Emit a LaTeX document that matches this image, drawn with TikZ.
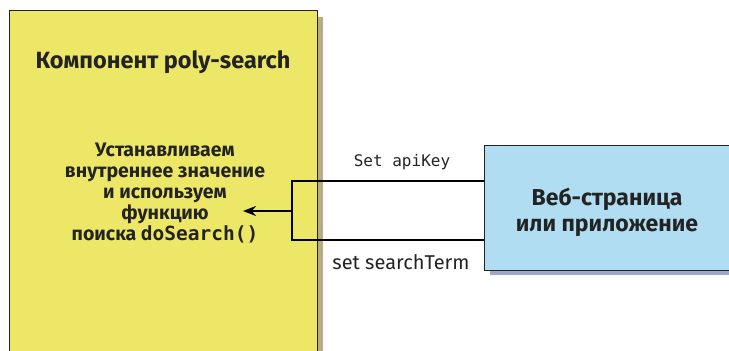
\documentclass[tikz,border=0pt]{standalone}
\usepackage{fontspec}
\setmainfont{Fira Sans}
\setmonofont{DejaVu Sans Mono}
\usetikzlibrary{arrows.meta}
\definecolor{compyellow}{RGB}{237,231,104}
\definecolor{compshadow}{RGB}{184,172,130}
\definecolor{pageblue}{RGB}{176,221,241}
\definecolor{pageshadow}{RGB}{160,166,200}
\definecolor{inkgray}{RGB}{35,35,35}
\tikzset{
  box/.style={draw=inkgray, line width=1pt},
  link/.style={draw=black, line width=2pt},
  boxtext/.style={font=\bfseries\fontsize{19.5}{21}\selectfont, align=center, text=inkgray, inner sep=0pt},
  msg/.style={font=\fontsize{20}{22}\selectfont, text=inkgray, inner sep=0pt},
}
\begin{document}
\begin{tikzpicture}[x=1pt,y=1pt]
  \useasboundingbox (0,0) rectangle (729,351);
  % component box with its shadow
  \fill[compshadow] (317,0) rectangle (323,334);
  \path[box, fill=compyellow] (9,-2) rectangle (317,340);
  \node[boxtext, font=\bfseries\fontsize{23.5}{26}\selectfont] (title) at (163,289) {Компонент poly-search};
  \node[boxtext] (body) at (165,158) {Устанавливаем\\внутреннее значение\\и используем\\функцию\\поиска \texttt{doSearch()}};
  % web page box with its shadow
  \fill[pageshadow] (490,76) rectangle (731,80);
  \path[box, fill=pageblue] (484,80) rectangle (731,205);
  \node[boxtext, font=\bfseries\fontsize{23}{26}\selectfont] (page) at (607,139) {Веб-страница\\или приложение};
  % connectors
  \coordinate (top) at (484,170);
  \coordinate (bot) at (484,111);
  \coordinate (tl) at (292,170);
  \coordinate (bl) at (292,111);
  \coordinate (mid) at (292,140);
  \coordinate (tip) at (243,140);
  \draw[link] (top) -- (tl) -- (bl) -- (bot);
  \draw[link, -{Stealth[length=13pt,width=10pt]}] (mid) -- (tip);
  \node[msg, font=\ttfamily\fontsize{16}{18}\selectfont] (key) at (402,189) {Set apiKey};
  \node[msg] (term) at (401,89) {set searchTerm};
\end{tikzpicture}
\end{document}
